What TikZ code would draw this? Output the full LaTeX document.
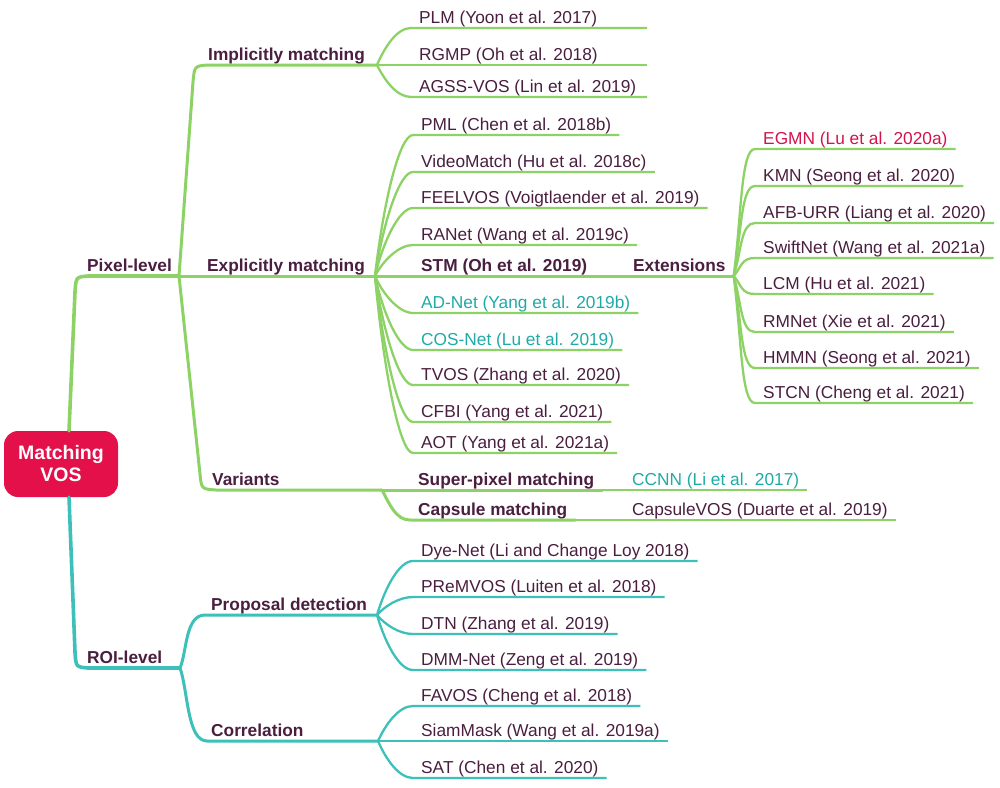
\documentclass[tikz,border=0pt]{standalone}
\usepackage{fontspec}
\setmainfont{Liberation Sans}
\usetikzlibrary{calc}
\definecolor{gr}{HTML}{8CD265}
\definecolor{tl}{HTML}{3DBFBA}
\definecolor{txt}{HTML}{4A1E3F}
\definecolor{ttxt}{HTML}{1FAAA7}
\definecolor{rtxt}{HTML}{D3134C}
\definecolor{crim}{HTML}{E3104A}
\begin{document}
\begin{tikzpicture}[x=1pt,y=-1pt,
 lab/.style={anchor=south west, inner xsep=8pt, inner ysep=0pt, text height=12.5pt, text depth=4.5pt, text=txt, font=\fontsize{17.3}{20}\selectfont},
 blab/.style={lab, font=\fontsize{17.3}{20}\selectfont\bfseries},
 l1/.style={line width=3.6pt, line cap=round, line join=round},
 l2/.style={line width=3pt, line cap=round, line join=round},
 l3/.style={line width=2.3pt},
 branch/.style={to path={.. controls ($(\tikztostart)!0.5!(\tikztostart|-\tikztotarget)+(8,0)$) and ($(\tikztotarget)+(-14,0)$) .. (\tikztotarget)}},
]
\useasboundingbox (0,0) rectangle (1000,787);

% level labels
\node[blab] (pixel) at (79,276) {Pixel-level};
\node[blab] (roi) at (79,668) {ROI-level};
\node[blab] (impl) at (200,65) {Implicitly matching};
\node[blab] (expl) at (199,276) {Explicitly matching};
\node[blab] (var) at (204,490) {Variants};
\node[blab] (stm) at (413,276) {STM (Oh et al. 2019)};
\node[blab] (ext) at (625,276) {Extensions};
\node[blab] (super) at (410,490) {Super-pixel matching};
\node[blab] (capsule) at (410,520) {Capsule matching};
\node[blab] (prop) at (203,615) {Proposal detection};
\node[blab] (corr) at (203,741) {Correlation};

% implicit leaves
\node[lab] (plm) at (411,28) {PLM (Yoon et al. 2017)};
\node[lab] (rgmp) at (411,65) {RGMP (Oh et al. 2018)};
\node[lab] (agss) at (411,97) {AGSS-VOS (Lin et al. 2019)};
\coordinate (ImplEnd) at (647,65);

% explicit leaves
\node[lab] (pml) at (413,135) {PML (Chen et al. 2018b)};
\node[lab] (vm) at (413,172) {VideoMatch (Hu et al. 2018c)};
\node[lab] (feel) at (413,208) {FEELVOS (Voigtlaender et al. 2019)};
\node[lab] (ranet) at (413,245) {RANet (Wang et al. 2019c)};
\node[lab,text=ttxt] (adnet) at (413,313) {AD-Net (Yang et al. 2019b)};
\node[lab,text=ttxt] (cos) at (413,350) {COS-Net (Lu et al. 2019)};
\node[lab] (tvos) at (413,385) {TVOS (Zhang et al. 2020)};
\node[lab] (cfbi) at (413,422) {CFBI (Yang et al. 2021)};
\node[lab] (aot) at (413,453) {AOT (Yang et al. 2021a)};

% extensions leaves
\node[lab,text=rtxt] (egmn) at (755,149) {EGMN (Lu et al. 2020a)};
\node[lab] (kmn) at (755,186) {KMN (Seong et al. 2020)};
\node[lab] (afb) at (755,223) {AFB-URR (Liang et al. 2020)};
\node[lab] (swift) at (755,258) {SwiftNet (Wang et al. 2021a)};
\node[lab] (lcm) at (755,294) {LCM (Hu et al. 2021)};
\node[lab] (rmnet) at (755,332) {RMNet (Xie et al. 2021)};
\node[lab] (hmmn) at (755,368) {HMMN (Seong et al. 2021)};
\node[lab] (stcn) at (755,403) {STCN (Cheng et al. 2021)};

% variants leaves
\node[lab,text=ttxt] (ccnn) at (624,490) {CCNN (Li et al. 2017)};
\node[lab] (capsvos) at (624,520) {CapsuleVOS (Duarte et al. 2019)};

% ROI leaves
\node[lab] (dye) at (413,561) {Dye-Net (Li and Change Loy 2018)};
\node[lab] (prem) at (413,597) {PReMVOS (Luiten et al. 2018)};
\node[lab] (dtn) at (413,634) {DTN (Zhang et al. 2019)};
\node[lab] (dmm) at (413,670) {DMM-Net (Zeng et al. 2019)};
\node[lab] (favos) at (413,706) {FAVOS (Cheng et al. 2018)};
\node[lab] (siam) at (413,741) {SiamMask (Wang et al. 2019a)};
\node[lab] (sat) at (413,778) {SAT (Chen et al. 2020)};

% junctions
\coordinate (PixelJ) at (179,276);
\coordinate (ExplJ) at (375,276);
\coordinate (ImplJ) at (377,65);
\coordinate (VarJ) at (382,490);
\coordinate (ExtJ) at (ext.south east);
\coordinate (ROIJ) at (180,668);
\coordinate (PropJ) at (377,615);
\coordinate (CorrJ) at (378,741);

% root node
\node[fill=crim, rounded corners=14pt, minimum width=114pt, minimum height=66pt, inner sep=0pt,
  text=white, align=center, font=\fontsize{19.5}{22}\selectfont\bfseries] (root) at (61,464) {Matching\\VOS};

% green subtree
\draw[l1,gr] ([xshift=8pt]root.north) -- (75,292) .. controls (76,277) .. (88,276) -- (PixelJ);
\draw[l2,gr] (PixelJ) -- (ExplJ);
\draw[l2,gr] (PixelJ) -- (193,82) .. controls (194.5,66) .. (208,65) -- (ImplJ);
\draw[l2,gr] (PixelJ) -- (200,474) .. controls (201.5,489) .. (216,490) -- (VarJ);
\foreach \n in {plm,rgmp,agss} \draw[l3,gr] (ImplJ) to[branch] (\n.south west) -- (\n.south west -| ImplEnd);
\foreach \n in {pml,vm,feel,ranet,adnet,cos,tvos,cfbi,aot} \draw[l3,gr] (ExplJ) to[branch] (\n.south west) -- (\n.south east);
\draw[l2,gr] (ExplJ) -- (stm.south west) -- (stm.south east) -- (ext.south west) -- (ExtJ);
\foreach \n in {egmn,kmn,afb,swift,lcm,rmnet,hmmn,stcn} \draw[l3,gr] (ExtJ) to[branch] (\n.south west) -- (\n.south east);
\draw[l2,gr] (VarJ) -- (super.south west) -- (super.south east);
\draw[l3,gr] (super.south east) -- (ccnn.south west) -- (ccnn.south east);
\draw[l2,gr] (VarJ) to[branch] (capsule.south west) -- (capsule.south east);
\draw[l3,gr] (capsule.south east) -- (capsvos.south west) -- (capsvos.south east);

% teal subtree
\draw[l1,tl] ([xshift=8pt]root.south) -- (75,652) .. controls (76,667) .. (88,668) -- (ROIJ);
\draw[l2,tl] (ROIJ) .. controls (187,652) and (185,615) .. (205,615) -- (PropJ);
\draw[l2,tl] (ROIJ) .. controls (188,690) and (187,741) .. (207,741) -- (CorrJ);
\foreach \n in {dye,prem,dtn,dmm} \draw[l3,tl] (PropJ) to[branch] (\n.south west) -- (\n.south east);
\foreach \n in {favos,siam,sat} \draw[l3,tl] (CorrJ) to[branch] (\n.south west) -- (\n.south east);
\end{tikzpicture}
\end{document}
